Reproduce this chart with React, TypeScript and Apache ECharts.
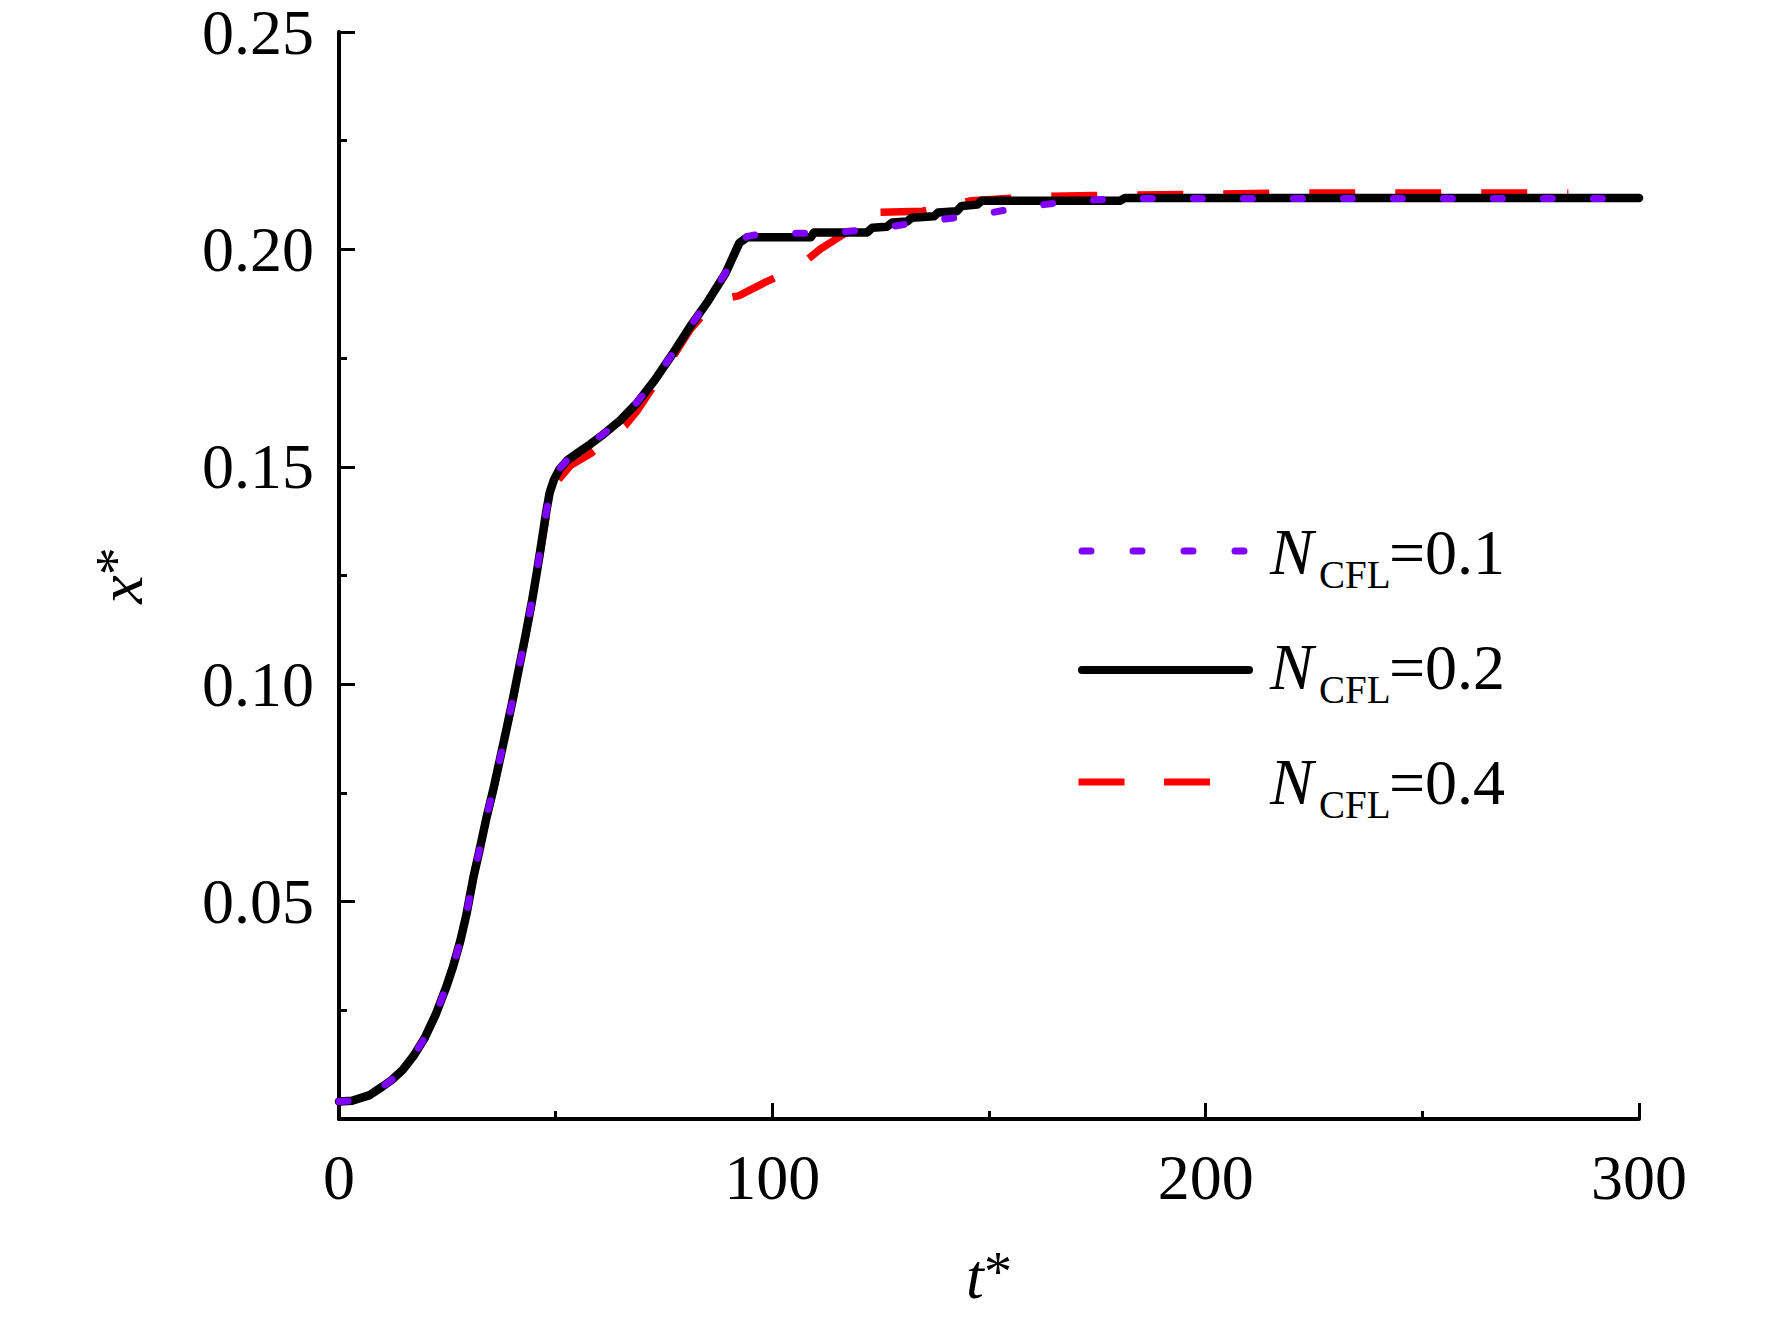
import React, { useEffect, useRef } from "react";
import * as echarts from "echarts";

// ---- data: [t*, x*] pairs ----
const cfl01: [number, number][] = [
  [0, 0.004], [3, 0.0042], [7.1, 0.0055], [10.1, 0.0075], [12.2, 0.009], [14.7, 0.0113],
  [17.2, 0.0145], [19.8, 0.0187], [22.3, 0.024], [24.8, 0.0305], [26.3, 0.035], [28.0, 0.041],
  [29.4, 0.047], [31.0, 0.0556], [32.4, 0.0618], [34.1, 0.0697], [35.7, 0.0762], [37.2, 0.083],
  [38.5, 0.089], [40.0, 0.096], [41.5, 0.1035], [43.1, 0.1115], [44.6, 0.1196], [45.7, 0.1262],
  [46.8, 0.133], [47.8, 0.1394], [48.6, 0.1438], [49.6, 0.147], [50.9, 0.1496], [52.7, 0.1516],
  [55.2, 0.1535], [58.0, 0.1554], [61.3, 0.1578], [64.8, 0.1608], [68.9, 0.165], [72.9, 0.1702],
  [77.0, 0.176], [81.0, 0.1822], [85.1, 0.1882], [89.2, 0.1946], [92.4, 0.2015], [94.2, 0.203],
  [98.3, 0.2037], [112.5, 0.2037], [124.6, 0.2048], [134.7, 0.2064], [146.9, 0.2078],
  [157.0, 0.2096], [168.2, 0.211], [180.3, 0.2117], [298, 0.2117],
];

const cfl02: [number, number][] = [
  [0, 0.004], [3, 0.0042], [7.1, 0.0055], [10.1, 0.0075], [12.2, 0.009], [14.7, 0.0113],
  [17.2, 0.0145], [19.8, 0.0187], [22.3, 0.024], [24.8, 0.0305], [26.3, 0.035], [28.0, 0.041],
  [29.4, 0.047], [31.0, 0.0555], [32.4, 0.0617], [34.1, 0.0696], [35.7, 0.0762], [37.2, 0.083],
  [38.5, 0.089], [40.0, 0.096], [41.5, 0.1035], [43.1, 0.1115], [44.6, 0.1195], [45.7, 0.126],
  [46.8, 0.133], [47.8, 0.1395], [48.6, 0.144], [49.6, 0.147], [50.9, 0.1495], [52.7, 0.1515],
  [55.2, 0.1533], [58.0, 0.1552], [61.3, 0.1577], [64.8, 0.1606], [68.9, 0.1648], [72.9, 0.17],
  [77.0, 0.176], [81.0, 0.1822], [85.1, 0.188], [89.2, 0.1945], [92.4, 0.2015], [94.2, 0.2028],
  [108.9, 0.2028], [109.6, 0.2039], [121.9, 0.2039], [123.1, 0.205], [126.4, 0.2052],
  [127.7, 0.2062], [131.1, 0.2064], [132.2, 0.2073], [137.3, 0.2076], [138.3, 0.2085],
  [142.6, 0.2088], [143.7, 0.21], [147.3, 0.2103], [148.3, 0.2112], [180.3, 0.2112],
  [181.3, 0.2118], [300, 0.2118],
];

const cfl04: [number, number][] = [
  [0, 0.004], [3, 0.0042], [7.1, 0.0055], [10.1, 0.0075], [12.2, 0.009], [14.7, 0.0113],
  [17.2, 0.0145], [19.8, 0.0187], [22.3, 0.024], [24.8, 0.0305], [26.3, 0.035], [28.0, 0.041],
  [29.4, 0.047], [31.0, 0.0555], [32.4, 0.0617], [34.1, 0.0695], [35.7, 0.076], [37.2, 0.0828],
  [38.5, 0.0888], [40.0, 0.0958], [41.5, 0.1033], [43.1, 0.1113], [44.6, 0.1192], [45.7, 0.1257],
  [46.8, 0.1325], [47.8, 0.1385], [48.6, 0.1425], [50.2, 0.1465], [53.4, 0.1503], [58.0, 0.153],
  [61.8, 0.156], [66.1, 0.1596], [68.9, 0.163], [72.9, 0.169], [77.0, 0.1752], [81.0, 0.1815],
  [85.1, 0.1862], [87.6, 0.1885], [92.2, 0.1893], [98.3, 0.1924], [105.9, 0.1959],
  [111.1, 0.2001], [116.5, 0.2035], [120.6, 0.2065], [124.2, 0.2085], [134.7, 0.2088],
  [139.8, 0.21], [145.9, 0.2112], [163.1, 0.2122], [174.3, 0.2124], [222.9, 0.213],
  [283.7, 0.213],
];

const legendValues = ["0.1", "0.2", "0.4"];
const xTickValues = [0, 100, 200, 300];
const yTickValues = [0, 0.05, 0.1, 0.15, 0.2, 0.25];

const FONT = '"Liberation Serif", "Times New Roman", serif';
const PURPLE = "#7F00FF";
const RED = "#FF0000";
const BLACK = "#000000";

export default function App() {
  const ref = useRef<HTMLDivElement>(null);

  useEffect(() => {
    document.body.style.margin = "0";
    if (!ref.current) return;
    const chart = echarts.init(ref.current, undefined, { renderer: "svg" });

    const legendStyles = [
      { color: PURPLE, width: 7, dash: [9, 42], cap: "round", y: 551, x1: 1082, x2: 1245 },
      { color: BLACK, width: 8, dash: null, cap: "round", y: 670, x1: 1082, x2: 1249 },
      { color: RED, width: 7, dash: [46, 39.5], cap: "butt", y: 782, x1: 1078.5, x2: 1210 },
    ];
    const textYs = [552, 667, 782];

    const graphic: any[] = [];
    legendValues.forEach((val, i) => {
      const s = legendStyles[i];
      graphic.push({
        type: "line",
        shape: { x1: s.x1, y1: s.y, x2: s.x2, y2: s.y },
        style: {
          stroke: s.color,
          lineWidth: s.width,
          lineDash: s.dash || undefined,
          lineCap: s.cap,
        },
        z: 100,
      });
      const ty = textYs[i];
      graphic.push({
        type: "text",
        x: 1270,
        y: ty,
        style: {
          text: "N",
          fontFamily: FONT,
          fontSize: 65,
          fontStyle: "italic",
          fill: "#000",
          align: "left",
          verticalAlign: "middle",
        },
        z: 100,
      });
      graphic.push({
        type: "text",
        x: 1319,
        y: ty + 22,
        style: {
          text: "CFL",
          fontFamily: FONT,
          fontSize: 39,
          fill: "#000",
          align: "left",
          verticalAlign: "middle",
        },
        z: 100,
      });
      graphic.push({
        type: "text",
        x: 1389,
        y: ty,
        style: {
          text: "=" + val,
          fontFamily: FONT,
          fontSize: 64,
          fill: "#000",
          align: "left",
          verticalAlign: "middle",
        },
        z: 100,
      });
    });

    const axisCommon = {
      axisLine: { show: true, onZero: false, lineStyle: { color: "#000", width: 4 } },
      axisTick: { show: true, inside: true, length: 16, lineStyle: { color: "#000", width: 3 } },
      minorTick: { show: true, splitNumber: 2, length: 8, lineStyle: { color: "#000", width: 3 } },
      splitLine: { show: false },
      minorSplitLine: { show: false },
    };

    const nameRich = {
      i: { fontFamily: FONT, fontSize: 64, fontStyle: "italic", color: "#000" },
      s: { fontFamily: FONT, fontSize: 56, color: "#000", verticalAlign: "top" },
    };

    chart.setOption({
      animation: false,
      backgroundColor: "#fff",
      grid: { left: 339, right: 133, top: 29, bottom: 200, containLabel: false },
      xAxis: {
        type: "value",
        min: xTickValues[0],
        max: xTickValues[xTickValues.length - 1],
        interval: 100,
        ...axisCommon,
        axisLabel: {
          fontFamily: FONT,
          fontSize: 64,
          color: "#000",
          margin: 26,
          formatter: (v: number) => String(v),
        },
        name: "{i|t}{s|*}",
        nameLocation: "middle",
        nameGap: 125,
        nameTextStyle: { rich: nameRich },
      },
      yAxis: {
        type: "value",
        min: yTickValues[0],
        max: yTickValues[yTickValues.length - 1],
        interval: 0.05,
        ...axisCommon,
        axisLabel: {
          fontFamily: FONT,
          fontSize: 64,
          lineHeight: 48,
          color: "#000",
          margin: 25,
          padding: [8, 0, 0, 0],
          formatter: (v: number) => (v === 0 ? "" : v.toFixed(2)),
        },
        name: "{i|x}{s|*}",
        nameLocation: "middle",
        nameGap: 187,
        nameTextStyle: { rich: nameRich },
      },
      series: [
        {
          name: "NCFL=0.4",
          type: "line",
          data: cfl04,
          symbol: "none",
          lineStyle: { color: RED, width: 7.5, type: [46, 40], cap: "butt" },
          z: 2,
        },
        {
          name: "NCFL=0.2",
          type: "line",
          data: cfl02,
          symbol: "none",
          lineStyle: { color: BLACK, width: 8.5, type: "solid", cap: "round", join: "round" },
          z: 3,
        },
        {
          name: "NCFL=0.1",
          type: "line",
          data: cfl01,
          symbol: "none",
          lineStyle: { color: PURPLE, width: 7, type: [9, 41], cap: "round" },
          z: 4,
        },
      ],
      graphic,
    });

    return () => chart.dispose();
  }, []);

  return <div ref={ref} style={{ width: 1772, height: 1319 }} />;
}
